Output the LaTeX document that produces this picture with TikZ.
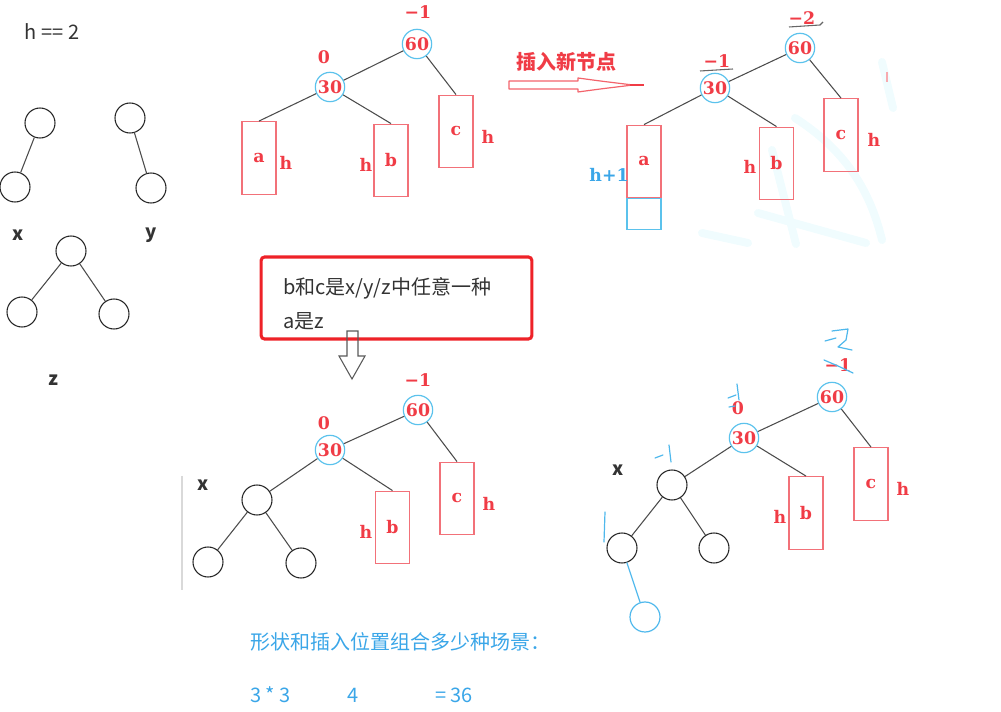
\documentclass[tikz,border=0pt]{standalone}
\usepackage{fontspec}
\newfontfamily\cjk{Noto Sans CJK SC}
\newfontfamily\rf{DejaVu Serif}
\definecolor{redtxt}{HTML}{F03C46}
\definecolor{boxred}{HTML}{F27179}
\definecolor{circ}{HTML}{5BC2EC}
\definecolor{bluetxt}{HTML}{3AA6E8}
\definecolor{handblue}{HTML}{4FB8EC}
\definecolor{darktxt}{HTML}{333333}
\definecolor{frame}{HTML}{EE2228}
\definecolor{wm}{HTML}{F0FCFE}
\begin{document}
\begin{tikzpicture}[x=0.75pt,y=-0.75pt,
  bt/.style={circle, draw=black!85, line width=0.8pt, minimum size=22.5pt, inner sep=0pt},
  ct/.style={circle, draw=circ, line width=0.9pt, minimum size=22pt, inner sep=0pt, text=redtxt, font=\rf\bfseries\fontsize{13}{13}\selectfont},
  sub/.style={rectangle, draw=boxred, line width=0.9pt, minimum width=25.5pt, minimum height=54.5pt, inner sep=0pt, text=redtxt, font=\rf\bfseries\fontsize{13}{13}\selectfont},
  rl/.style={text=redtxt, font=\rf\bfseries\fontsize{13}{13}\selectfont, inner sep=0pt},
  edge/.style={draw=black!70, line width=0.8pt},
  st/.style={font=\cjk\fontsize{15}{15}\selectfont, text=darktxt, inner sep=0pt},
  stb/.style={font=\cjk\bfseries\fontsize{14}{14}\selectfont, text=darktxt, inner sep=0pt},
  bl/.style={font=\cjk\fontsize{15}{15}\selectfont, text=bluetxt, inner sep=0pt},
  hand/.style={draw=handblue, line width=0.9pt, line cap=round, line join=round},
  wmark/.style={draw=wm, line cap=round, line width=6pt}
]
\useasboundingbox (0,0) rectangle (1001,712);

% faint watermark strokes
\draw[wmark] (795,118) .. controls (845,150) and (870,190) .. (882,240);
\draw[wmark] (772,150) -- (796,244);
\draw[wmark] (758,213) -- (866,243);
\draw[wmark] (702,233) -- (748,243);
\draw[wmark] (882,62) -- (893,108);

% ---------- top-left shapes ----------
\node[st] (h2) at (52,32) {h == 2};
\node[bt] (x1) at (40,123) {};
\node[bt] (x2) at (15,187) {};
\draw[edge] (x1) -- (x2);
\node[bt] (y1) at (130,118) {};
\node[bt] (y2) at (151,188) {};
\draw[edge] (y1) -- (y2);
\node[stb] (lx) at (18,235) {x};
\node[stb] (ly) at (151,235) {y};
\node[bt] (z1) at (71,251) {};
\node[bt] (z2) at (22,312) {};
\node[bt] (z3) at (114,314) {};
\draw[edge] (z1) -- (z2);
\draw[edge] (z1) -- (z3);
\node[stb] (lz) at (53,380) {z};

% ---------- top middle tree ----------
\node[rl] (ta1) at (418,12) {−1};
\node[ct] (ta60) at (417,44) {60};
\node[rl] (ta0) at (324,57) {0};
\node[ct] (ta30) at (330,87) {30};
\node[sub] (taa) at (259,158) {a};
\node[rl] (tah1) at (286,163) {h};
\node[sub] (tab) at (391,160.5) {b};
\node[rl] (tah2) at (366,165) {h};
\node[sub] (tac) at (456,131.5) {c};
\node[rl] (tah3) at (488,137) {h};
\draw[edge] (ta60) -- (ta30);
\draw[edge] (ta30) -- (taa.north);
\draw[edge] (ta30) -- (tab.north);
\draw[edge] (ta60) -- (tac.north);

% ---------- insert arrow ----------
\node[font=\cjk\bfseries\fontsize{15}{15}\selectfont, text=redtxt, inner sep=0pt] (ins) at (566,62) {插入新节点};
\draw[draw=redtxt!80, line width=0.9pt, line join=round]
  (509,81) -- (578,81) -- (578,78) .. controls (600,81) .. (633,85)
  .. controls (600,89) .. (578,92) -- (578,89) -- (509,89) -- cycle;
\draw[draw=redtxt, line width=0.9pt] (630,85) -- (644,85);

% ---------- top right tree ----------
\node[rl] (tb2) at (802,18) {−2};
\draw[draw=black!60, line width=0.8pt] (789,27) -- (820,25) -- (823,22);
\node[ct] (tb60) at (800,48) {60};
\node[rl] (tb1) at (717,61) {−1};
\draw[draw=black!60, line width=0.8pt] (700,71) -- (733,69);
\node[ct] (tb30) at (715,88) {30};
\node[sub] (tba) at (644,161.5) {a};
\node[text=bluetxt, font=\rf\bfseries\fontsize{13}{13}\selectfont, inner sep=0pt] (tbh) at (609,175) {h+1};
\node[rectangle, draw=circ, line width=0.9pt, minimum width=25.5pt, minimum height=23pt, inner sep=0pt] (tbn) at (644,214) {};
\node[sub] (tbb) at (776.5,163.5) {b};
\node[rl] (tbh2) at (750,167) {h};
\node[sub] (tbc) at (841,135) {c};
\node[rl] (tbh3) at (874,140) {h};
\draw[edge] (tb60) -- (tb30);
\draw[edge] (tb30) -- (tba.north);
\draw[edge] (tb30) -- (tbb.north);
\draw[edge] (tb60) -- (tbc.north);
\draw[draw=boxred!60, line width=0.8pt] (887,72) -- (887,82);

% ---------- note box ----------
\node[draw=frame, line width=2.3pt, rounded corners=2.5pt, minimum width=203pt, minimum height=61.5pt, inner sep=0pt] (note) at (396.5,298) {};
\node[st, anchor=west] (n1) at (283,288) {b和c是x/y/z中任意一种};
\node[st, anchor=west] (n2) at (283,321) {a是z};
\draw[draw=black!65, line width=0.8pt, line join=miter]
  (347,331) -- (358,331) -- (358,356) -- (365,356) -- (352,379) -- (339,356) -- (347,356) -- cycle;

% ---------- bottom middle tree ----------
\draw[draw=black!15, line width=0.8pt] (182,476) -- (182,590);
\node[rl] (tc1) at (418,380) {−1};
\node[ct] (tc60) at (418,410) {60};
\node[rl] (tc0) at (324,423) {0};
\node[ct] (tc30) at (330,450) {30};
\node[stb] (tcx) at (203,485) {x};
\node[bt] (cx1) at (257,500) {};
\node[bt] (cx2) at (208,562) {};
\node[bt] (cx3) at (301,563) {};
\node[sub] (tcb) at (392.5,527.5) {b};
\node[rl] (tch1) at (366,532) {h};
\node[sub] (tcc) at (457,498.5) {c};
\node[rl] (tch2) at (489,504) {h};
\draw[edge] (tc60) -- (tc30);
\draw[edge] (tc30) -- (cx1);
\draw[edge] (tc30) -- (tcb.north);
\draw[edge] (tc60) -- (tcc.north);
\draw[edge] (cx1) -- (cx2);
\draw[edge] (cx1) -- (cx3);

% ---------- bottom right tree ----------
\node[rl] (td1) at (838,365) {−1};
\node[ct] (td60) at (832,397) {60};
\node[rl] (td0) at (738,408) {0};
\node[ct] (td30) at (744,438) {30};
\node[stb] (tdx) at (618,470) {x};
\node[bt] (dx1) at (672,485) {};
\node[bt] (dx2) at (622,548) {};
\node[bt] (dx3) at (714,548) {};
\node[circle, draw=handblue, line width=0.9pt, minimum size=22.5pt, inner sep=0pt] (dx4) at (645,617) {};
\node[sub] (tdb) at (806,513) {b};
\node[rl] (tdh1) at (780,517) {h};
\node[sub] (tdc) at (871,484) {c};
\node[rl] (tdh2) at (903,489) {h};
\draw[edge] (td60) -- (td30);
\draw[edge] (td30) -- (dx1);
\draw[edge] (td30) -- (tdb.north);
\draw[edge] (td60) -- (tdc.north);
\draw[edge] (dx1) -- (dx2);
\draw[edge] (dx1) -- (dx3);
\draw[hand] (dx2) -- (dx4);
% handwritten marks
\draw[hand] (825,341) -- (836,338);
\draw[hand] (832,331) -- (848,329) -- (846,340) -- (838,347) -- (852,350);
\draw[hand] (824,360) -- (838,366) -- (853,373);
\draw[hand] (728,398) -- (736,395);
\draw[hand] (737,384) -- (739,400);
\draw[hand] (729,407) -- (735,406);
\draw[hand] (655,458) -- (663,455);
\draw[hand] (669,445) -- (671,462);
\draw[hand] (605,512) -- (604,542);

% ---------- bottom text ----------
\node[bl, anchor=west] (q) at (250,642) {形状和插入位置组合多少种场景：};
\node[bl, anchor=west] (a1) at (250,695) {3 * 3};
\node[bl, anchor=west] (a2) at (347,695) {4};
\node[bl, anchor=west] (a3) at (435,695) {= 36};
\end{tikzpicture}
\end{document}
